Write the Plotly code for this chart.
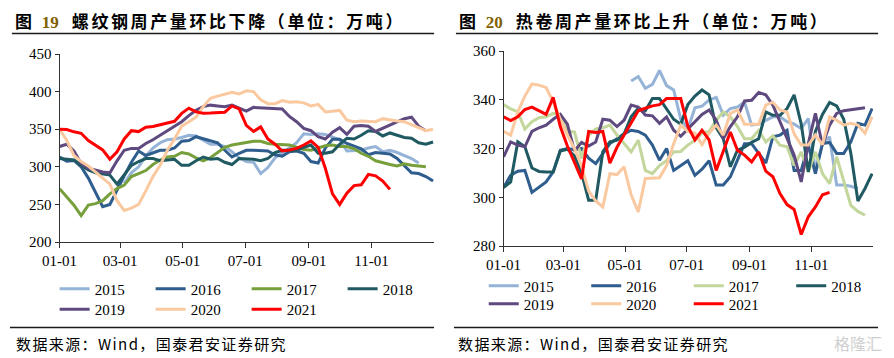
import pandas as pd
import plotly.graph_objects as go

# ---------------- data ----------------
weeks = pd.date_range("2021-01-01", periods=53, freq="7D")
years = ["2015", "2016", "2017", "2018", "2019", "2020", "2021"]

# 螺纹钢 weekly output (万吨)
rb_2015 = [None] * 9 + [278, 292, 300, 314, 325, 332, 336, 337, 339, 342, 341, 336, 330, 330, 327, 320,
                        312, 307, 306, 291, 299, 312, 318, 325, 332, 344, 343, 344, 343, 340, 336, 321,
                        321, 322, 325, 327, 320, 322, 319, 315, 311, 305]
rb_2016 = [313, 307.5, 308.5, 300, 285, 266, 247, 250, 270, 288, 306, 321, 315, 319, 322, 322, 325, 334,
           335, 340, 337, 334, 332, 322, 313, 318, 322, 322, 322, 321, 316, 314, 320, 321, 318, 307, 305,
           325, 336.6, 336.6, 331, 327, 324, 316, 319, 318, 317, 311, 301, 292, 291, 287, 281]
rb_2017 = [271, 260, 249, 235, 249, 251, 255, 264, 271, 275.6, 287, 291, 295, 303, 309, 313, 314, 319, 317,
           312, 308, 312, 319, 326, 329, 331, 332, 334, 334, 331, 330, 330, 329, 326, 323, 322, 325, 328,
           329, 327, 327, 324, 318, 314, 308, 305, 303, 301, 304, 302, 301, 300]
rb_2018 = [311, 310, 309, 302, 296, 292, 290, 289, 277, 290, 302, 307, 311, 311, 308, 309, 310, 302, 302,
           308, 313, 310, 311, 306, 303, 311, 311, 310, 308, 311, 319, 322, 322, 322, 326, 329, 318, 318,
           320, 330, 338, 337, 342, 348, 347, 341, 345, 342, 339, 338, 332, 330, 333]
rb_2019 = [327, 330, 321, 304.5, 298, 295, 293, 292, 308, 322, 324.5, 324.5, 331, 336, 342, 348, 353, 360,
           368, 375, 380, 382, 381, 380, 382, 378, 374, 379, 378.5, 378, 377, 377, 367, 360, 351, 348, 340,
           337, 346, 352, 343, 354, 355, 354, 347, 351, 356, 359, 364, 366, 354, 348]
rb_2020 = [350, 335, 315, 307, 301, 293, 285, 277, 255, 242, 245, 250, 268, 287, 302, 322, 337, 354, 360,
           366, 380, 391, 394, 397, 399, 397, 401, 400, 389, 384, 384, 388, 386, 386.5, 385, 381, 383, 373,
           374, 375, 362, 360, 361, 361, 360, 364, 362, 361, 360, 356, 352, 348, 350]
rb_2021 = [350, 349.5, 346.5, 344.6, 335, 329, 322.5, 310, 320, 337, 348, 346.8, 352.6, 353.5, 356, 358,
           360.5, 371, 378, 373, 371.3, 371.5, 372, 372.6, 381, 377, 355, 347, 353, 337, 330, 321, 322.3,
           324.5, 329, 334.5, 326, 298, 264, 250, 265, 275, 276, 290, 288, 281, 270]

# 热卷 weekly output (万吨)
hc_2015 = [None] * 18 + [347.7, 349.5, 344.7, 346.3, 352, 345.8, 344, 332, 328, 336.7, 337.4, 339.9, 341,
                         333.7, 336.4, 337, 339, 329.6, 330, 331.6, 333, 333, 331, 330, 328.2, 332.3, 311,
                         322, 324.8, 305, 305, 304.5, 303.6]
hc_2016 = [304, 309, 310.7, 311, 302, 304.2, 306.3, 310.4, 319.3, 320, 319.5, 320, 316, 313.8, 318, 322,
           324, 326, 327.5, 327, 325.5, 321.4, 315.2, 320, 311, 313, 315, 309, 311.5, 315, 305, 305, 308.4,
           315.2, 322, 322, 318, 314, 324.8, 325.5, 327.5, 311, 311, 321.4, 309.7, 322, 322.5, 318, 318,
           322.7, 330.3, 329.6, 336.4]
hc_2017 = [338, 336.2, 335, 328, 331, 332.6, 333, 334.4, 334, 327, 326.8, 316, 325.5, 328, 328.5, 329.6,
           325.5, 322, 318.6, 323.4, 311, 309.7, 313, 315, 318.6, 318.8, 321.4, 323.4, 326.3, 327, 331.6,
           335, 333, 329, 324, 324, 327.5, 322.7, 325.2, 321.4, 320.7, 313, 318.6, 310.4, 318.6, 309.7,
           305.6, 316.6, 307, 296.7, 294.2, 292.6]
hc_2018 = [304, 306.3, 322.7, 320.7, 312, 310.6, 310.4, 310.4, 319, 319.7, 317, 310, 298.8, 298.8, 318.6,
           322.7, 323.4, 326, 333, 336.5, 335.5, 340.5, 340.5, 336, 332, 330, 338, 341.5, 344, 342, 328.5,
           324, 312.5, 319.3, 320.5, 322.5, 324, 335, 333.6, 333.6, 336.4, 342, 330, 310.4, 327, 334,
           338.9, 337.5, 332, 318, 298.5, 303.6, 309.7]
hc_2019 = [316.6, 322.7, 321.4, 320.7, 327, 328.5, 329.6, 332, 334, 330, 319, 322.5, 321, 322.7, 332,
           331.6, 329, 331.6, 337.8, 337, 333.7, 333.4, 330.3, 333, 327.5, 325, 328, 331, 334, 335.8,
           331.6, 324, 329, 333, 339.5, 339.8, 343, 342, 337.8, 331, 324, 317.3, 306.3, 322, 334.4,
           321.4, 329.6, 334.4, 335.5, 336, 336.2, 336.7]
hc_2020 = [327, 325.5, 335, 341.5, 346.5, 346, 345, 339, 332, 325.5, 320, 312.8, 302.5, 298.5, 296, 309.7,
           309.3, 312.5, 301, 294, 307.7, 307.7, 308, 313, 322, 329.6, 327, 326.3, 321.6, 326.3, 329.6,
           325.5, 334.4, 335.8, 330, 330, 330, 337.8, 339, 335.8, 335, 326, 321.4, 321.4, 325.5, 321.6,
           333, 331.6, 329.6, 330.3, 329.6, 326.3, 333]
hc_2021 = [333, 331.5, 333, 336, 337, 335.5, 334, 341, 329, 321, 314, 307.5, 327, 326.6, 327, 314, 320.5,
           325.5, 330, 335.5, 336.5, 337.5, 338, 340.5, 340.5, 340.5, 329, 323.5, 327.5, 323.5, 311, 319,
           326.8, 319.3, 317.3, 314.5, 318.6, 310.7, 308.4, 301.5, 297, 295, 284.7, 292, 296, 301, 302]

x_tick_vals = ["2021-01-01", "2021-03-01", "2021-05-01", "2021-07-01", "2021-09-01", "2021-11-01"]
x_tick_text = ["01-01", "03-01", "05-01", "07-01", "09-01", "11-01"]

title_left = ("图", "19", "螺纹钢周产量环比下降（单位：万吨）")
title_right = ("图", "20", "热卷周产量环比上升（单位：万吨）")
source_text = "数据来源：Wind，国泰君安证券研究"

# ---------------- styling ----------------
W, H = 894, 358
colors_left = ["#95B3D7", "#2F5D8E", "#77A03C", "#1F5A62", "#5F4A80", "#FAC9A0", "#FF0000"]
colors_right = ["#95B3D7", "#2F5D8E", "#C3D69B", "#1F5A62", "#5F4A80", "#FAC9A0", "#FF0000"]
SERIF = "Liberation Serif"
CJK = "Noto Sans CJK SC"


def px(x):
    return x / W


def py(y):
    return 1 - y / H


fig = go.Figure()

left_series = [rb_2015, rb_2016, rb_2017, rb_2018, rb_2019, rb_2020, rb_2021]
right_series = [hc_2015, hc_2016, hc_2017, hc_2018, hc_2019, hc_2020, hc_2021]

for i, (name, vals) in enumerate(zip(years, left_series)):
    fig.add_trace(go.Scatter(
        x=list(weeks[:len(vals)]), y=vals, name=name, mode="lines",
        line=dict(color=colors_left[i], width=3), xaxis="x", yaxis="y",
        legend="legend" if i < 4 else "legend2", connectgaps=False,
    ))
for i, (name, vals) in enumerate(zip(years, right_series)):
    fig.add_trace(go.Scatter(
        x=list(weeks[:len(vals)]), y=vals, name=name, mode="lines",
        line=dict(color=colors_right[i], width=3), xaxis="x2", yaxis="y2",
        legend="legend3" if i < 4 else "legend4", connectgaps=False,
    ))

axis_common = dict(
    showgrid=False, zeroline=False, showline=True, linecolor="#333333", linewidth=1,
    ticks="outside", tickcolor="#333333", tickfont=dict(family=SERIF, size=15, color="#000000"),
    automargin=False, fixedrange=True,
)

fig.update_layout(
    width=W, height=H, autosize=False,
    margin=dict(l=0, r=0, t=0, b=0),
    paper_bgcolor="white", plot_bgcolor="white",
    xaxis=dict(domain=[px(60), px(437)], anchor="y", type="date",
               range=["2021-01-01", "2022-01-01"], tickvals=x_tick_vals, ticktext=x_tick_text,
               ticklen=5, **axis_common),
    yaxis=dict(domain=[py(242), py(54)], anchor="x", range=[200, 450], tick0=200, dtick=50,
               ticklen=4, **axis_common),
    xaxis2=dict(domain=[px(507), px(879)], anchor="y2", type="date",
                range=["2021-01-01", "2022-01-01"], tickvals=x_tick_vals, ticktext=x_tick_text,
                ticklen=5, **axis_common),
    yaxis2=dict(domain=[py(246), py(51)], anchor="x2", range=[280, 360], tick0=280, dtick=20,
                ticklen=4, **axis_common),
    showlegend=True,
)

legend_common = dict(
    orientation="h", xanchor="left", yanchor="middle", bgcolor="rgba(0,0,0,0)",
    font=dict(family=SERIF, size=15, color="#000000"), entrywidthmode="pixels",
    itemclick=False, itemdoubleclick=False,
)
fig.update_layout(
    legend=dict(x=px(55), y=py(289), entrywidth=51, **legend_common),
    legend2=dict(x=px(55), y=py(309.5), entrywidth=51, **legend_common),
    legend3=dict(x=px(487), y=py(286), entrywidth=57.5, **legend_common),
    legend4=dict(x=px(487), y=py(304), entrywidth=57.5, **legend_common),
)


def title_html(t):
    return ("<b><span style='letter-spacing:3px'>%s </span>"
            "<span style='font-family:Liberation Serif;color:#7F6000'>%s</span>"
            "<span style='letter-spacing:2.6px'>  %s</span></b>") % t


annotations = [
    dict(x=px(13), y=py(21), text=title_html(title_left)),
    dict(x=px(460), y=py(21), text=title_html(title_right)),
    dict(x=px(14), y=py(343),
         text="<span style='letter-spacing:1.4px'>%s</span>" % source_text),
    dict(x=px(459), y=py(343),
         text="<span style='letter-spacing:1.4px'>%s</span>" % source_text),
]
for a in annotations:
    a.update(xref="paper", yref="paper", xanchor="left", yanchor="middle", showarrow=False)
annotations[0]["font"] = dict(family=CJK, size=17, color="#000000")
annotations[1]["font"] = dict(family=CJK, size=17, color="#000000")
annotations[2]["font"] = dict(family=CJK, size=15, color="#000000")
annotations[3]["font"] = dict(family=CJK, size=15, color="#000000")
annotations.append(dict(x=px(890), y=py(343), xref="paper", yref="paper", xanchor="right",
                        yanchor="middle", showarrow=False, text="格隆汇",
                        font=dict(family=CJK, size=16, color="#CFCFCF")))
fig.update_layout(annotations=annotations)

shapes = []
for (x0, x1, y) in [(12, 437, 33.5), (459, 884, 33.5), (10, 437, 327.5), (457, 884, 327.5)]:
    shapes.append(dict(type="line", xref="paper", yref="paper", x0=px(x0), x1=px(x1),
                       y0=py(y), y1=py(y), line=dict(color="#1A1A1A", width=1.5)))
fig.update_layout(shapes=shapes)

fig.write_html(
    "out.html",
    config={"displayModeBar": False, "staticPlot": True},
    post_script="document.body.style.margin='0';document.body.style.padding='0';"
                "document.body.style.overflow='hidden';",
)
